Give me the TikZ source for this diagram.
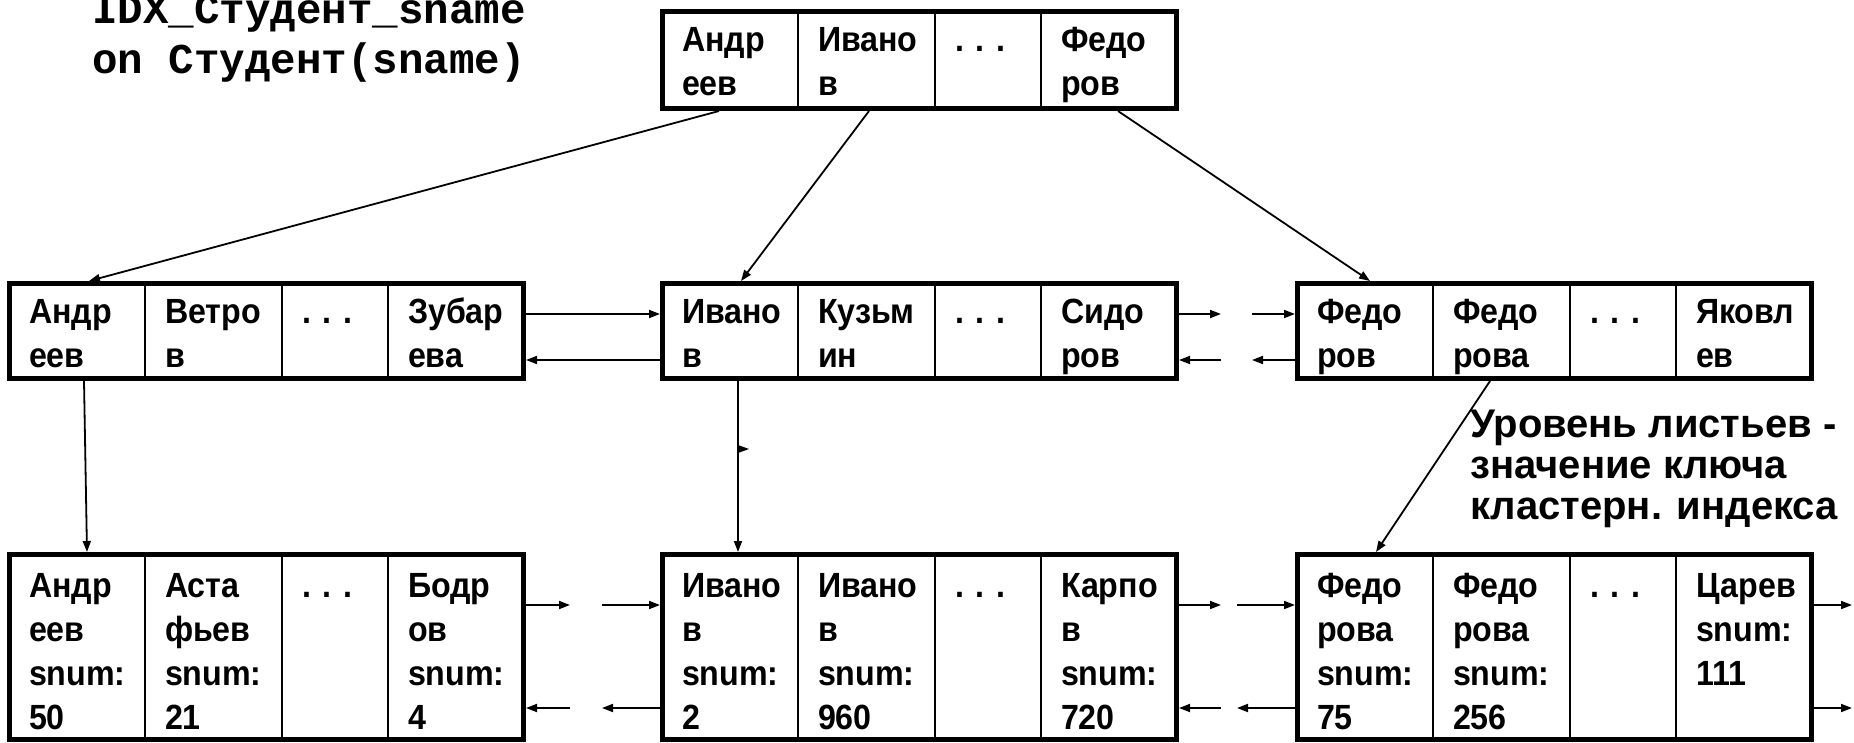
\documentclass[tikz,border=0pt]{standalone}
\usepackage{fontspec}
\setmainfont{Liberation Sans}
\newfontfamily\keyfont{Liberation Sans}[FakeStretch=0.92]
\newfontfamily\codefont{Liberation Mono}
\usetikzlibrary{arrows.meta}

% stacked lines of a cell, first baseline = box baseline
\newcommand\cellrows[2][44pt]{\vtop{\baselineskip=#1\lineskiplimit=-100pt\relax #2}}

\tikzset{
  keybox/.style={draw, line width=5pt, inner sep=0pt, outer sep=2.5pt,
                 minimum width=514pt, anchor=north west},
  innerpage/.style={keybox, minimum height=95pt},
  leafpage/.style={keybox, minimum height=185pt},
  divider/.style={line width=2pt},
  cellt/.style={anchor=base west, inner sep=0pt, outer sep=0pt,
                font=\keyfont\bfseries\fontsize{35}{44}\selectfont},
  link/.style={line width=1.8pt, -{Triangle[length=11pt,width=8pt]}},
}

% four cells of an index page: dividers and key texts
% #1 = first baseline below the top edge, #2 = page node, #3..#6 = cells
\newcommand\fillpage[6][45]{%
  \foreach \off in {138,275,381}
    \draw[divider] ([xshift=\off pt]#2.north west) -- ([xshift=\off pt]#2.south west);
  \node[cellt] (#2-a) at ([shift={(22pt,-#1pt)}]#2.north west)  {\cellrows{#3}};
  \node[cellt] (#2-b) at ([shift={(158pt,-#1pt)}]#2.north west) {\cellrows{#4}};
  \node[cellt] (#2-c) at ([shift={(295pt,-#1pt)}]#2.north west) {\cellrows{#5}};
  \node[cellt] (#2-d) at ([shift={(401pt,-#1pt)}]#2.north west) {\cellrows{#6}};
}

\begin{document}
\begin{tikzpicture}[x=1pt,y=-1pt]
\useasboundingbox (0,0) rectangle (1854,742);
\fill[white] (0,0) rectangle (1854,742);

% index definition
\node[anchor=base west, inner sep=0pt, font=\codefont\bfseries\fontsize{42.5}{52}\selectfont]
  (code) at (92,23) {\cellrows[50pt]{\hbox{IDX\_Студент\_sname}\hbox{on Студент(sname)}}};

% root page
\node[keybox, minimum height=97pt] (top) at (660,9) {};
\fillpage[42]{top}{\hbox{Андр}\hbox{еев}}{\hbox{Ивано}\hbox{в}}{\hbox{. . .}}{\hbox{Федо}\hbox{ров}}

% intermediate pages
\node[innerpage] (m1) at (7,281) {};
\node[innerpage] (m2) at (660,281) {};
\node[innerpage] (m3) at (1295,281) {};
\fillpage[42]{m1}{\hbox{Андр}\hbox{еев}}{\hbox{Ветро}\hbox{в}}{\hbox{. . .}}{\hbox{Зубар}\hbox{ева}}
\fillpage[42]{m2}{\hbox{Ивано}\hbox{в}}{\hbox{Кузьм}\hbox{ин}}{\hbox{. . .}}{\hbox{Сидо}\hbox{ров}}
\fillpage[42]{m3}{\hbox{Федо}\hbox{ров}}{\hbox{Федо}\hbox{рова}}{\hbox{. . .}}{\hbox{Яковл}\hbox{ев}}

% leaf pages
\node[leafpage] (b1) at (7,552) {};
\node[leafpage] (b2) at (660,552) {};
\node[leafpage] (b3) at (1295,552) {};
\fillpage{b1}{\hbox{Андр}\hbox{еев}\hbox{snum:}\hbox{50}}{\hbox{Аста}\hbox{фьев}\hbox{snum:}\hbox{21}}{\hbox{. . .}}{\hbox{Бодр}\hbox{ов}\hbox{snum:}\hbox{4}}
\fillpage{b2}{\hbox{Ивано}\hbox{в}\hbox{snum:}\hbox{2}}{\hbox{Ивано}\hbox{в}\hbox{snum:}\hbox{960}}{\hbox{. . .}}{\hbox{Карпо}\hbox{в}\hbox{snum:}\hbox{720}}
\fillpage{b3}{\hbox{Федо}\hbox{рова}\hbox{snum:}\hbox{75}}{\hbox{Федо}\hbox{рова}\hbox{snum:}\hbox{256}}{\hbox{. . .}}{\hbox{Царев}\hbox{snum:}\hbox{111}}

% leaf level note
\node[anchor=base west, inner sep=0pt, font=\bfseries\fontsize{40}{41}\selectfont]
  (note) at (1470,437) {\cellrows[41pt]{\hbox{Уровень листьев -}\hbox{значение ключа}\hbox{кластерн. индекса}}};

% root -> intermediate
\draw[link] ([xshift=59pt]top.south west)  -- ([xshift=82pt]m1.north west);
\draw[link] ([xshift=209pt]top.south west) -- ([xshift=81pt]m2.north west);
\draw[link] ([xshift=458pt]top.south west) -- ([xshift=75pt]m3.north west);

% intermediate -> leaves
\draw[link] ([xshift=77pt]m1.south west)  -- ([xshift=80pt]b1.north west);
\draw[link] ([xshift=78pt]m2.south west)  -- ([xshift=78pt]b2.north west);
\draw[link] ([xshift=195pt]m3.south west) -- ([xshift=81pt]b3.north west);
\coordinate (stray) at ([xshift=78pt,yshift=-68pt]m2.south west);
\fill ([yshift=4pt]stray) -- ([xshift=11pt]stray) -- ([yshift=-4pt]stray) -- cycle;

% sibling links, intermediate level
\draw[link] ([yshift=-33pt]m1.north east) -- ([yshift=-33pt]m2.north west);
\draw[link] ([yshift=-79pt]m2.north west) -- ([yshift=-79pt]m1.north east);
\coordinate (m23u) at ([shift={(42pt,-33pt)}]m2.north east);
\coordinate (m32u) at ([shift={(-43pt,-33pt)}]m3.north west);
\coordinate (m23l) at ([shift={(42pt,-79pt)}]m2.north east);
\coordinate (m32l) at ([shift={(-43pt,-79pt)}]m3.north west);
\draw[link] ([yshift=-33pt]m2.north east) -- (m23u);
\draw[link] (m32u) -- ([yshift=-33pt]m3.north west);
\draw[link] (m23l) -- ([yshift=-79pt]m2.north east);
\draw[link] ([yshift=-79pt]m3.north west) -- (m32l);

% sibling links, leaf level
\coordinate (b12u) at ([shift={(44pt,-53pt)}]b1.north east);
\coordinate (b21u) at ([shift={(-58pt,-53pt)}]b2.north west);
\coordinate (b12l) at ([shift={(44pt,-156pt)}]b1.north east);
\coordinate (b21l) at ([shift={(-58pt,-156pt)}]b2.north west);
\draw[link] ([yshift=-53pt]b1.north east) -- (b12u);
\draw[link] (b21u) -- ([yshift=-53pt]b2.north west);
\draw[link] (b12l) -- ([yshift=-156pt]b1.north east);
\draw[link] ([yshift=-156pt]b2.north west) -- (b21l);

\coordinate (b23u) at ([shift={(42pt,-53pt)}]b2.north east);
\coordinate (b32u) at ([shift={(-58pt,-53pt)}]b3.north west);
\coordinate (b23l) at ([shift={(42pt,-156pt)}]b2.north east);
\coordinate (b32l) at ([shift={(-58pt,-156pt)}]b3.north west);
\draw[link] ([yshift=-53pt]b2.north east) -- (b23u);
\draw[link] (b32u) -- ([yshift=-53pt]b3.north west);
\draw[link] (b23l) -- ([yshift=-156pt]b2.north east);
\draw[link] ([yshift=-156pt]b3.north west) -- (b32l);

\coordinate (b3ou) at ([shift={(38pt,-53pt)}]b3.north east);
\coordinate (b3ol) at ([shift={(38pt,-156pt)}]b3.north east);
\draw[link] ([yshift=-53pt]b3.north east) -- (b3ou);
\draw[link] ([yshift=-156pt]b3.north east) -- (b3ol);
\end{tikzpicture}
\end{document}
